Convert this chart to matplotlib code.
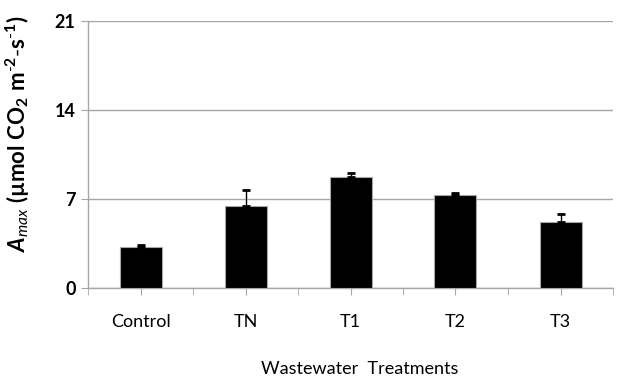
import matplotlib
matplotlib.use("Agg")
import matplotlib.pyplot as plt
import numpy as np
from matplotlib.ticker import FixedLocator

# ==================== #
# ======= DATA ======= #
# ==================== #
treatments = ["Control", "TN", "T1", "T2", "T3"]
amax_mean = [3.2, 6.45, 8.76, 7.34, 5.17]
amax_err = [0.2, 1.26, 0.31, 0.16, 0.65]
y_ticks = [0, 7, 14, 21]

FONT = ["Lato", "DejaVu Sans"]
plt.rcParams["font.family"] = FONT
plt.rcParams["mathtext.fontset"] = "custom"
plt.rcParams["mathtext.rm"] = "Lato"
plt.rcParams["mathtext.it"] = "Lato:italic"
plt.rcParams["mathtext.bf"] = "Lato:bold"
plt.rcParams["mathtext.bfit"] = "Lato:italic:bold"

GRAY = "#a6a6a6"

fig = plt.figure(figsize=(6.23, 3.8), dpi=100)
ax = fig.add_axes([88 / 623, 1 - 288 / 380, 525 / 623, 267 / 380])

x = np.arange(len(treatments))
ax.bar(x, amax_mean, width=0.4, color="black", edgecolor=GRAY, linewidth=0.8, zorder=3)
ax.errorbar(x, amax_mean, yerr=[np.zeros(len(amax_err)), amax_err], fmt="none",
            ecolor="black", elinewidth=1.0, capsize=3, capthick=2.0, zorder=4)

ax.set_xlim(-0.5, len(treatments) - 0.5)
ax.set_ylim(0, 21)
ax.set_yticks(y_ticks)
ax.set_yticklabels([str(t) for t in y_ticks], fontsize=13, fontweight="bold")
ax.set_xticks(x)
ax.set_xticklabels(treatments, fontsize=13)
ax.xaxis.set_minor_locator(FixedLocator(np.arange(-0.5, len(treatments), 1.0)))
ax.tick_params(axis="x", which="both", length=5, color=GRAY, direction="out", pad=14)
ax.tick_params(axis="y", length=5, color=GRAY, pad=4)

ax.grid(axis="y", color=GRAY, linewidth=1.0, zorder=0)
ax.set_axisbelow(True)
for s in ["top", "right"]:
    ax.spines[s].set_visible(False)
for s in ["left", "bottom"]:
    ax.spines[s].set_color(GRAY)
    ax.spines[s].set_linewidth(1.0)

fig.text(360 / 623, 1 - 369 / 380, "Wastewater  Treatments", ha="center", va="center", fontsize=13)
ylab = (r"$\mathbfit{A}_{\mathit{max}}\ \mathbf{(µmol\ CO_{2}\ m^{\text{-}2}\text{-}s^{\text{-}1})}$")
fig.text(18 / 623, 1 - 134 / 380, ylab,
         rotation=90, ha="center", va="center", fontsize=16)

fig.savefig("out.png", dpi=100)
